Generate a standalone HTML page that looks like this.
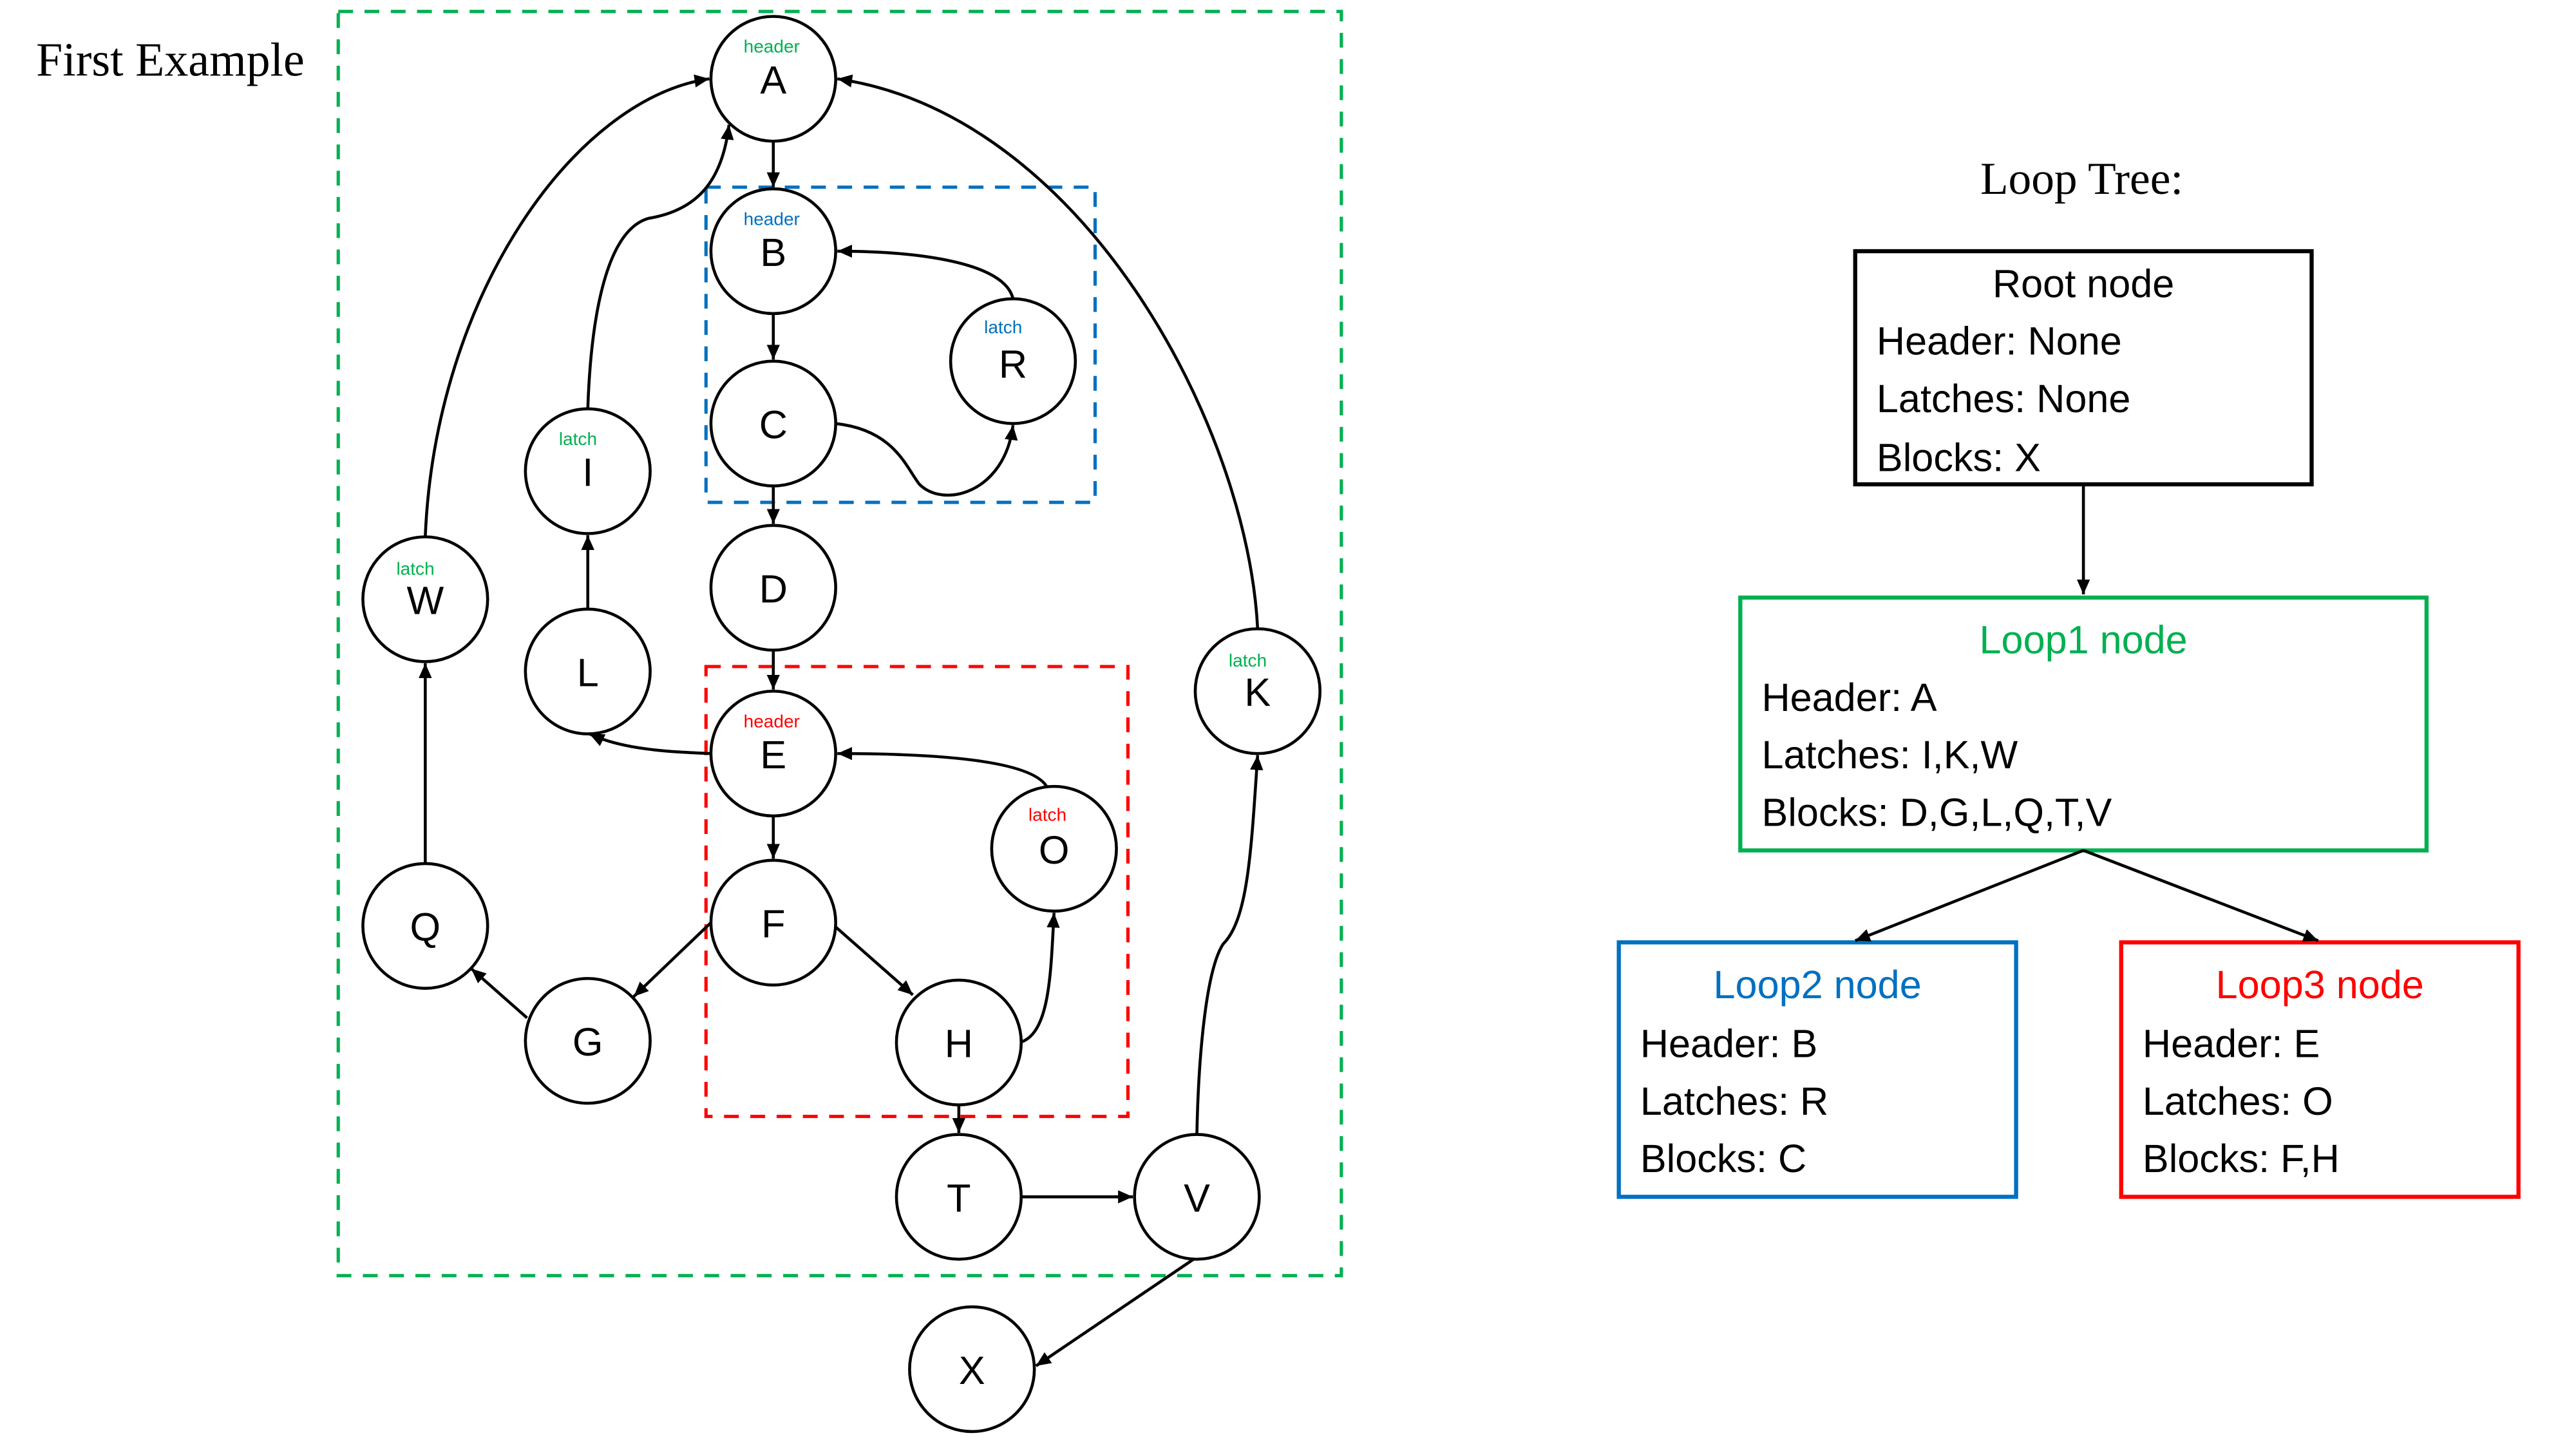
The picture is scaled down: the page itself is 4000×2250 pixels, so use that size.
<!DOCTYPE html>
<html><head><style>html,body{margin:0;padding:0;background:#fff}svg{display:block}</style></head><body>
<svg width="4000" height="2250" viewBox="0 0 1569 882.6" xmlns="http://www.w3.org/2000/svg">
<defs><marker id="ar" markerWidth="10" markerHeight="10" refX="9" refY="5" orient="auto" markerUnits="userSpaceOnUse"><path d="M0,1 L9,5 L0,9 z" fill="#000"/></marker></defs>
<text x="22" y="46" font-family="Liberation Serif, serif" font-size="29">First Example</text>
<g fill="none" stroke-width="2" stroke-dasharray="9,7">
<rect x="206" y="7" width="611" height="770" stroke="#00b050"/>
<rect x="430" y="114" width="237" height="192" stroke="#0070c0"/>
<rect x="430" y="406" width="257" height="274" stroke="#ff0000"/>
</g>
<g fill="none" stroke="#000" stroke-width="1.8" marker-end="url(#ar)">
<path d="M471,86 L471,114"/><path d="M471,191 L471,219"/><path d="M471,296 L471,319"/>
<path d="M471,396 L471,420"/><path d="M471,497 L471,523"/>
<path d="M617,182 C612,160 560,153 510,153"/>
<path d="M509,258 C545,262 552,285 560,295 C575,310 612,300 617,259"/>
<path d="M358,249 C360,190 370,140 395,133 C425,128 440,110 444,76"/>
<path d="M259,327 C265,180 350,60 432,48"/>
<path d="M766,383 C760,260 660,70 510,48"/>
<path d="M358,371 L358,326"/>
<path d="M433,459 C410,458 380,457 359,447"/>
<path d="M638,480 C630,463 570,459 510,459"/>
<path d="M506,562 L556,606"/>
<path d="M433,562 L386,607"/>
<path d="M321,620 L287,590"/>
<path d="M259,526 L259,404"/>
<path d="M621,635 C640,630 640,590 642,556"/>
<path d="M584,673 L584,690"/>
<path d="M622,729 L690,729"/>
<path d="M729,691 C730,640 735,590 745,575 C760,560 762,520 766,460"/>
<path d="M727,767 L631,832"/>
</g>
<g fill="#fff" stroke="#000" stroke-width="1.8">
<circle cx="471" cy="48" r="38"/><circle cx="471" cy="153" r="38"/><circle cx="617" cy="220" r="38"/>
<circle cx="471" cy="258" r="38"/><circle cx="358" cy="287" r="38"/><circle cx="471" cy="358" r="38"/>
<circle cx="259" cy="365" r="38"/><circle cx="358" cy="409" r="38"/><circle cx="471" cy="459" r="38"/>
<circle cx="766" cy="421" r="38"/><circle cx="642" cy="517" r="38"/><circle cx="471" cy="562" r="38"/>
<circle cx="259" cy="564" r="38"/><circle cx="358" cy="634" r="38"/><circle cx="584" cy="635" r="38"/>
<circle cx="584" cy="729" r="38"/><circle cx="729" cy="729" r="38"/><circle cx="592" cy="834" r="38"/>
</g>
<g font-family="Liberation Sans, sans-serif" font-size="24" text-anchor="middle">
<text x="471" y="57">A</text><text x="471" y="162">B</text><text x="617" y="230">R</text>
<text x="471" y="267">C</text><text x="358" y="296">I</text><text x="471" y="367">D</text>
<text x="259" y="374">W</text><text x="358" y="418">L</text><text x="471" y="468">E</text>
<text x="766" y="430">K</text><text x="642" y="526">O</text><text x="471" y="571">F</text>
<text x="259" y="573">Q</text><text x="358" y="643">G</text><text x="584" y="644">H</text>
<text x="584" y="738">T</text><text x="729" y="738">V</text><text x="592" y="843">X</text>
</g>
<g font-family="Liberation Sans, sans-serif" font-size="11" text-anchor="middle">
<text x="470" y="32" fill="#00b050">header</text>
<text x="470" y="137" fill="#0070c0">header</text>
<text x="611" y="203" fill="#0070c0">latch</text>
<text x="352" y="271" fill="#00b050">latch</text>
<text x="253" y="350" fill="#00b050">latch</text>
<text x="470" y="443" fill="#ff0000">header</text>
<text x="760" y="406" fill="#00b050">latch</text>
<text x="638" y="500" fill="#ff0000">latch</text>
</g>
<text x="1268" y="118" font-family="Liberation Serif, serif" font-size="28" text-anchor="middle">Loop Tree:</text>
<g fill="none" stroke-width="2.5">
<rect x="1130" y="153" width="278" height="142" stroke="#000"/>
<rect x="1060" y="364" width="418" height="154" stroke="#00b050"/>
<rect x="986" y="574" width="242" height="155" stroke="#0070c0"/>
<rect x="1292" y="574" width="242" height="155" stroke="#ff0000"/>
</g>
<g fill="none" stroke="#000" stroke-width="1.8" marker-end="url(#ar)">
<path d="M1269,295 L1269,362"/><path d="M1269,518 L1130,573"/><path d="M1269,518 L1412,573"/>
</g>
<g font-family="Liberation Sans, sans-serif" font-size="24">
<text x="1269" y="181" text-anchor="middle">Root node</text>
<text x="1143" y="216">Header: None</text><text x="1143" y="251">Latches: None</text><text x="1143" y="287">Blocks: X</text>
<text x="1269" y="398" text-anchor="middle" fill="#00b050">Loop1 node</text>
<text x="1073" y="433">Header: A</text><text x="1073" y="468">Latches: I,K,W</text><text x="1073" y="503">Blocks: D,G,L,Q,T,V</text>
<text x="1107" y="608" text-anchor="middle" fill="#0070c0">Loop2 node</text>
<text x="999" y="644">Header: B</text><text x="999" y="679">Latches: R</text><text x="999" y="714">Blocks: C</text>
<text x="1413" y="608" text-anchor="middle" fill="#ff0000">Loop3 node</text>
<text x="1305" y="644">Header: E</text><text x="1305" y="679">Latches: O</text><text x="1305" y="714">Blocks: F,H</text>
</g>
</svg>
</body></html>
